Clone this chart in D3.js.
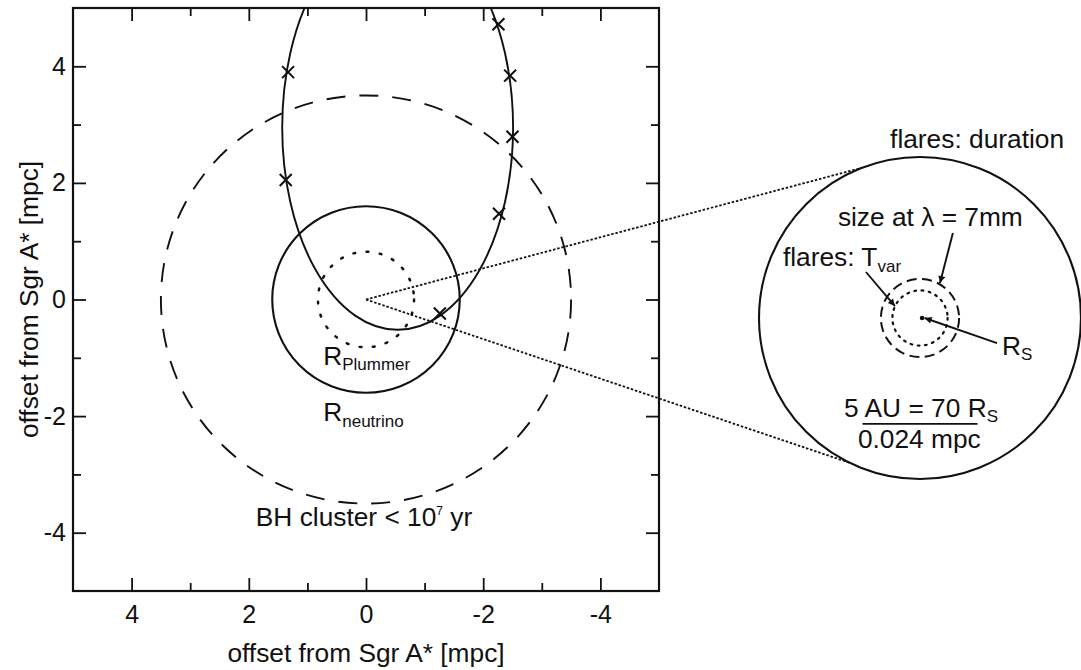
<!DOCTYPE html>
<html><head><meta charset="utf-8">
<script src="https://cdn.jsdelivr.net/npm/d3@7"></script>
<style>
body{margin:0;background:#fff}
text{font-family:"Liberation Sans",Arial,Helvetica,sans-serif;fill:#111}
</style>
</head><body>
<svg id="c" width="1081" height="670"></svg>
<script>
// ---------- data ----------
const xTickValues = [4, 2, 0, -2, -4];
const yTickValues = [4, 2, 0, -2, -4];
const minorTickValues = [3, 1, -1, -3];
const xTitle = "offset from Sgr A* [mpc]";
const yTitle = "offset from Sgr A* [mpc]";
// circles around Sgr A* (radius in mpc)
const circleNames = ["BH cluster", "R_neutrino", "R_Plummer"];
const circleRadii = [3.5, 1.6, 0.82];
// orbit ellipse (mpc)
const orbitCenter = [-0.54, 2.95];
const orbitSemiAxes = [1.97, 3.47];
// orbit epochs (crosses)
const crossX = [1.33, 1.37, -2.26, -2.46, -2.50, -2.27, -1.26];
const crossY = [3.90, 2.05, 4.72, 3.84, 2.79, 1.47, -0.24];
// inset (AU)
const insetNames = ["flares: duration", "size at λ = 7mm", "flares: T_var"];
const insetRadii = [7, 1.7, 1.2];
const scaleBarAU = 5;
const connectorAngles = [111, -116]; // degrees on inset circle

// ---------- layout ----------
const svg = d3.select("#c");
const P = {left: 73, right: 659, top: 8, bottom: 591};
const x = d3.scaleLinear().domain([5, -5]).range([P.left, P.right]);
const y = d3.scaleLinear().domain([5, -5]).range([P.top, P.bottom]);
const INS = {cx: 920, cy: 318, r: 161};
const ix = d3.scaleLinear().domain([-7, 7]).range([INS.cx - INS.r, INS.cx + INS.r]);
const iy = d3.scaleLinear().domain([7, -7]).range([INS.cy - INS.r, INS.cy + INS.r]);
const ink = "#111";
const FS = 26.3, SUB = 17;

svg.append("defs").append("clipPath").attr("id", "clip")
  .append("rect").attr("x", P.left).attr("y", P.top)
  .attr("width", P.right - P.left).attr("height", P.bottom - P.top);
svg.select("defs").append("marker").attr("id", "arrow")
  .attr("viewBox", "0 0 10 10").attr("refX", 10).attr("refY", 5)
  .attr("markerWidth", 9).attr("markerHeight", 7).attr("markerUnits", "userSpaceOnUse")
  .attr("orient", "auto")
  .append("path").attr("d", "M0,0 L10,5 L0,10 z").attr("fill", ink);

// ---------- axes ----------
const fmt = d => String(d);
function styleAxis(g) {
  g.select(".domain").remove();
  g.selectAll(".tick line").attr("stroke", ink).attr("stroke-width", 1.8);
  g.selectAll(".tick text").attr("font-size", 25).attr("fill", ink)
    .style("font-family", '"Liberation Sans",Arial,sans-serif');
}
svg.append("g").attr("transform", `translate(0,${P.bottom})`)
  .call(d3.axisBottom(x).tickValues(xTickValues).tickSizeInner(-13).tickSizeOuter(0).tickPadding(14).tickFormat(fmt))
  .call(styleAxis);
svg.append("g").attr("transform", `translate(0,${P.bottom})`)
  .call(d3.axisBottom(x).tickValues(minorTickValues).tickSizeInner(-8).tickSizeOuter(0).tickFormat(""))
  .call(styleAxis);
svg.append("g").attr("transform", `translate(0,${P.top})`)
  .call(d3.axisTop(x).tickValues(xTickValues).tickSizeInner(-13).tickSizeOuter(0).tickFormat(""))
  .call(styleAxis);
svg.append("g").attr("transform", `translate(0,${P.top})`)
  .call(d3.axisTop(x).tickValues(minorTickValues).tickSizeInner(-8).tickSizeOuter(0).tickFormat(""))
  .call(styleAxis);
svg.append("g").attr("transform", `translate(${P.left},0)`)
  .call(d3.axisLeft(y).tickValues(yTickValues).tickSizeInner(-13).tickSizeOuter(0).tickPadding(7).tickFormat(fmt))
  .call(styleAxis);
svg.append("g").attr("transform", `translate(${P.left},0)`)
  .call(d3.axisLeft(y).tickValues(minorTickValues).tickSizeInner(-8).tickSizeOuter(0).tickFormat(""))
  .call(styleAxis);
svg.append("g").attr("transform", `translate(${P.right},0)`)
  .call(d3.axisRight(y).tickValues(yTickValues).tickSizeInner(-13).tickSizeOuter(0).tickFormat(""))
  .call(styleAxis);
svg.append("g").attr("transform", `translate(${P.right},0)`)
  .call(d3.axisRight(y).tickValues(minorTickValues).tickSizeInner(-8).tickSizeOuter(0).tickFormat(""))
  .call(styleAxis);

svg.append("rect").attr("x", P.left).attr("y", P.top)
  .attr("width", P.right - P.left).attr("height", P.bottom - P.top)
  .attr("fill", "none").attr("stroke", ink).attr("stroke-width", 2.2);

svg.append("text").attr("x", x(0)).attr("y", 662).attr("text-anchor", "middle")
  .attr("font-size", FS).text(xTitle);
svg.append("text").attr("transform", `translate(38,${y(0)}) rotate(-90)`)
  .attr("text-anchor", "middle").attr("font-size", FS).text(yTitle);

// ---------- main plot marks ----------
const plotG = svg.append("g").attr("clip-path", "url(#clip)");
const circleDash = {"BH cluster": "19,14", "R_neutrino": null, "R_Plummer": "1.8,11.5"};
const circleWidth = {"BH cluster": 1.9, "R_neutrino": 2.1, "R_Plummer": 2.5};
plotG.selectAll("ellipse.ring").data(circleNames).join("ellipse")
  .attr("class", "ring")
  .attr("cx", x(0)).attr("cy", y(0))
  .attr("rx", (d, i) => Math.abs(x(circleRadii[i]) - x(0)))
  .attr("ry", (d, i) => Math.abs(y(circleRadii[i]) - y(0)))
  .attr("fill", "none").attr("stroke", ink)
  .attr("stroke-width", d => circleWidth[d])
  .attr("stroke-dasharray", d => circleDash[d])
  .attr("stroke-linecap", d => d === "R_Plummer" ? "round" : "butt");

plotG.append("ellipse")
  .attr("cx", x(orbitCenter[0])).attr("cy", y(orbitCenter[1]))
  .attr("rx", Math.abs(x(orbitSemiAxes[0]) - x(0)))
  .attr("ry", Math.abs(y(orbitSemiAxes[1]) - y(0)))
  .attr("fill", "none").attr("stroke", ink).attr("stroke-width", 1.9);

const cs = 6;
plotG.selectAll("path.cross").data(crossX).join("path").attr("class", "cross")
  .attr("d", (d, i) => {
    const px = x(d), py = y(crossY[i]);
    return `M${px - cs},${py - cs}L${px + cs},${py + cs}M${px - cs},${py + cs}L${px + cs},${py - cs}`;
  })
  .attr("stroke", ink).attr("stroke-width", 2.1).attr("fill", "none");

// labels in main plot
function subLabel(g, px, py, main, sub, size, subSize, dy) {
  const t = g.append("text").attr("x", px).attr("y", py).attr("font-size", size);
  t.append("tspan").text(main);
  t.append("tspan").attr("font-size", subSize).attr("dy", dy).text(sub);
  return t;
}
subLabel(svg, x(0.73), y(-1.12), "R", "Plummer", FS, SUB, 5);
subLabel(svg, x(0.73), y(-2.08), "R", "neutrino", FS, SUB, 6);
{
  const t = svg.append("text").attr("x", x(1.88)).attr("y", y(-3.89)).attr("font-size", FS);
  t.append("tspan").text("BH cluster < 10");
  t.append("tspan").attr("font-size", 12).attr("dy", -11).text("7");
  t.append("tspan").attr("dy", 11).text(" yr");
}

// ---------- connectors ----------
const conG = svg.append("g");
conG.selectAll("line").data(connectorAngles).join("line")
  .attr("x1", x(0)).attr("y1", y(0))
  .attr("x2", a => ix(7 * Math.cos(a * Math.PI / 180)))
  .attr("y2", a => iy(7 * Math.sin(a * Math.PI / 180)))
  .attr("stroke", ink).attr("stroke-width", 1.8).attr("stroke-dasharray", "2.5,1.8");

// ---------- inset ----------
const insDash = {"flares: duration": null, "size at λ = 7mm": "10,5.5", "flares: T_var": "1.8,5.5"};
const insWidth = {"flares: duration": 2.1, "size at λ = 7mm": 2, "flares: T_var": 2.2};
svg.selectAll("circle.ins").data(insetNames).join("circle").attr("class", "ins")
  .attr("cx", ix(0)).attr("cy", iy(0))
  .attr("r", (d, i) => ix(insetRadii[i]) - ix(0))
  .attr("fill", "none").attr("stroke", ink)
  .attr("stroke-width", d => insWidth[d])
  .attr("stroke-dasharray", d => insDash[d])
  .attr("stroke-linecap", d => d === "flares: T_var" ? "round" : "butt");
svg.append("circle").attr("cx", ix(0.09)).attr("cy", iy(0)).attr("r", 2.3).attr("fill", ink);

svg.append("text").attr("x", ix(-1.3)).attr("y", iy(7.39)).attr("font-size", FS).text(insetNames[0]);
svg.append("text").attr("x", ix(-3.57)).attr("y", iy(4.0)).attr("font-size", FS).text(insetNames[1]);
subLabel(svg, ix(-5.96), iy(2.26), "flares: T", "var", FS, SUB, 6);
subLabel(svg, ix(3.57), iy(-1.6), "R", "S", FS, SUB, 5);
subLabel(svg, ix(-3.3), iy(-4.3), `${scaleBarAU} AU = 70 R`, "S", FS, SUB, 5);
svg.append("text").attr("x", ix(-2.7)).attr("y", iy(-5.65)).attr("font-size", FS).text("0.024 mpc");
svg.append("line")
  .attr("x1", ix(-scaleBarAU / 2)).attr("x2", ix(scaleBarAU / 2))
  .attr("y1", iy(-4.6)).attr("y2", iy(-4.6))
  .attr("stroke", ink).attr("stroke-width", 1.8);

const arrows = [[1.43, 3.7, 0.87, 1.52], [-2.35, 2.0, -1.09, 0.52], [3.35, -1.09, 0.2, 0]];
svg.selectAll("line.arr").data(arrows).join("line").attr("class", "arr")
  .attr("x1", d => ix(d[0])).attr("y1", d => iy(d[1]))
  .attr("x2", d => ix(d[2])).attr("y2", d => iy(d[3]))
  .attr("stroke", ink).attr("stroke-width", 1.9).attr("marker-end", "url(#arrow)");
</script>
</body></html>
